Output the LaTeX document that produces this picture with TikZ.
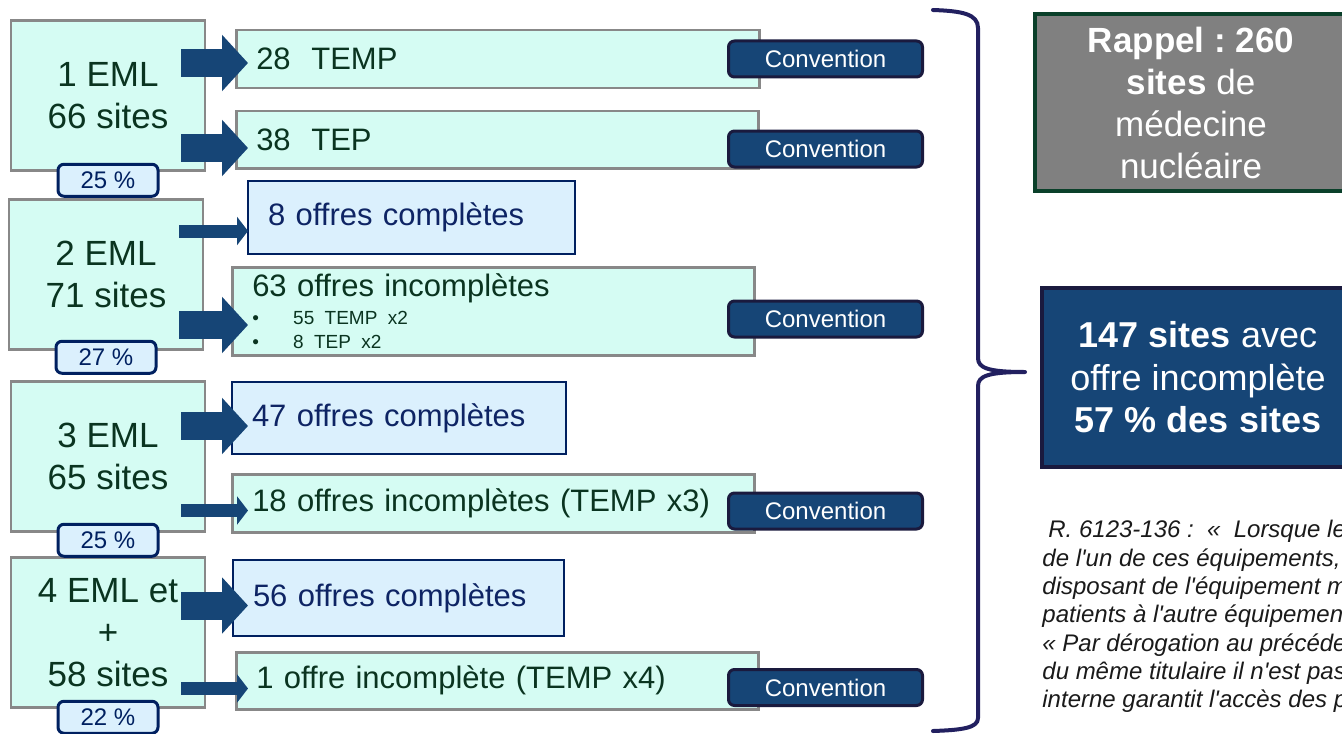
\documentclass[tikz,border=0pt]{standalone}
\usepackage{fontspec}
\setmainfont{Liberation Sans}[Ligatures=TeXOff]
\frenchspacing
\usetikzlibrary{arrows.meta,calc,positioning}

\definecolor{menta}{RGB}{213,252,243}
\definecolor{grisborde}{RGB}{136,136,136}
\definecolor{celeste}{RGB}{219,240,253}
\definecolor{marino}{RGB}{0,32,96}
\definecolor{azulflecha}{RGB}{22,69,118}
\definecolor{bordeconv}{RGB}{26,26,62}
\definecolor{verdetexto}{RGB}{10,52,32}
\definecolor{azultexto}{RGB}{14,36,100}
\definecolor{grisfondo}{RGB}{128,128,128}
\definecolor{verdeborde}{RGB}{10,64,42}
\definecolor{llave}{RGB}{34,32,96}
\definecolor{textonota}{RGB}{26,26,26}

\begin{document}
\begin{tikzpicture}[x=0.5pt,y=-0.5pt,
    sitio/.style={draw=grisborde, line width=1.25pt, fill=menta, text=verdetexto,
      minimum width=97pt, minimum height=75pt, align=center,
      font=\fontsize{17.5}{21}\selectfont},
    pastilla/.style={draw=marino, line width=1.5pt, fill=celeste, rounded corners=3pt,
      text=marino, minimum width=50pt, minimum height=16pt, inner sep=0pt,
      font=\fontsize{12}{14}\selectfont},
    fila/.style 2 args={anchor=north west, text width=#1, minimum height=#2,
      inner xsep=10pt, align=left, font=\fontsize{15.5}{18}\selectfont},
    incompleta/.style={draw=grisborde, line width=1.25pt, fill=menta, text=verdetexto},
    completa/.style={draw=marino, line width=1pt, fill=celeste, text=azultexto},
    conv/.style={draw=bordeconv, line width=1.5pt, fill=azulflecha, rounded corners=3pt,
      text=white, minimum width=97pt, minimum height=18pt, inner sep=0pt,
      font=\fontsize{12}{14}\selectfont},
    gruesa/.style={azulflecha, line width=14pt, -{Triangle[length=13pt,width=27.5pt]}},
    fina/.style={azulflecha, line width=6.5pt, -{Triangle[length=5.5pt,width=14pt]}}]

  % marco
  \useasboundingbox (0,0) rectangle (1342,733);
  \clip (0,0) rectangle (1342,733);

  %—————— Sitios ————————————————————————————————————————————————————————
  \node[sitio] (s1) at (108,95.5)  {1 EML\\66 sites};
  \node[sitio] (s2) at (106,274.5) {2 EML\\71 sites};
  \node[sitio] (s3) at (108,456.5) {3 EML\\65 sites};
  \node[sitio] (s4) at (108,632.5) {4 EML et\\+\\58 sites};

  %—————— Ofertas ———————————————————————————————————————————————————————
  \node[fila={241.5pt}{29pt}, incompleta] (r1) at (235,29) {28\ \ TEMP};
  \node[fila={241pt}{28.5pt}, incompleta] (r2) at (235,110) {38\ \ TEP};
  \node[fila={143.5pt}{36.5pt}, completa] (r3) at (247,180) {8 offres complètes};
  \node[fila={241pt}{42.5pt}, incompleta] (r4) at (231,266) {%
    {\fontsize{15.5}{18}\selectfont 63 offres incomplètes\par}%
    {\fontsize{9.5}{14}\selectfont\makebox[20.5pt][l]{•}55 TEMP x2\par}%
    {\fontsize{9.5}{12}\selectfont\makebox[20.5pt][l]{•}8 TEP x2\par}};
  \node[fila={147pt}{36pt}, completa] (r5) at (231,381) {47 offres complètes};
  \node[fila={241pt}{29pt}, incompleta] (r6) at (231,473) {18 offres incomplètes (TEMP x3)};
  \node[fila={145.5pt}{38pt}, completa] (r7) at (232,559) {56 offres complètes};
  \node[fila={241pt}{28.5pt}, incompleta] (r8) at (235,651) {1 offre incomplète (TEMP x4)};

  % flechas
  \foreach \i/\s/\y in {1/1/63, 2/1/148, 4/2/325, 5/3/426, 7/4/605.5}{
    \coordinate (p\i) at (248,\y);
    \draw[gruesa] ($(s\s.east |- p\i)+(-25,0)$) -- (p\i);
  }
  \foreach \i/\s/\y in {3/2/231, 6/3/510.5, 8/4/688.5}{
    \coordinate (p\i) at (248,\y);
    \draw[fina] ($(s\s.east |- p\i)+(-25,0)$) -- (p\i);
  }

  % porcentajes
  \node[pastilla, below=-4.5pt of s1] (b1) {25 \%};
  \node[pastilla, below=-5.5pt of s2] (b2) {27 \%};
  \node[pastilla, below=-5pt of s3]   (b3) {25 \%};
  \node[pastilla, below=-4.5pt of s4] (b4) {22 \%};

  % convenciones
  \node[conv] (c1) at (825.5,59)    {Convention};
  \node[conv] (c2) at (825.5,149)   {Convention};
  \node[conv] (c4) at (825.5,319)   {Convention};
  \node[conv] (c6) at (825.5,511)   {Convention};
  \node[conv] (c8) at (825.5,687.5) {Convention};

  %—————— Llave y resumen ———————————————————————————————————————————————
  \draw[llave, line width=2pt, line cap=round, line join=round]
    (933,10) .. controls (962,11) and (978,14) .. (978,28)
    -- (978,358) .. controls (978,368) and (988,372) .. (1025,372)
    .. controls (988,372) and (978,376) .. (978,386)
    -- (978,718) .. controls (978,728) and (962,730) .. (933,731);

  \node[draw=verdeborde, line width=2pt, fill=grisfondo, text=white,
    minimum width=156pt, minimum height=88.5pt, align=center,
    font=\fontsize{17.5}{21}\selectfont] (rappel) at (1191,102.5)
    {\textbf{Rappel : 260}\\\textbf{sites} de\\médecine\\nucléaire};
  \node[draw=bordeconv, line width=2pt, fill=azulflecha, text=white,
    minimum width=156pt, minimum height=89.5pt, align=center,
    font=\fontsize{18}{21.25}\selectfont] (total) at (1198,377.5)
    {\textbf{147 sites} avec\\offre incomplète\\\textbf{57 \% des sites}};

  % nota
  \node[anchor=north west, inner sep=0pt, align=left, text=textonota,
    font=\itshape\fontsize{12}{14.15}\selectfont] (nota) at (1042,520)
    {\hspace{3pt}R. 6123-136 :\ \ «\ \ Lorsque le\\de l'un de ces équipements,\\
     disposant de l'équipement m\\patients à l'autre équipemen\\
     « Par dérogation au précéde\\du même titulaire il n'est pas\\
     interne garantit l'accès des p};

\end{tikzpicture}
\end{document}
